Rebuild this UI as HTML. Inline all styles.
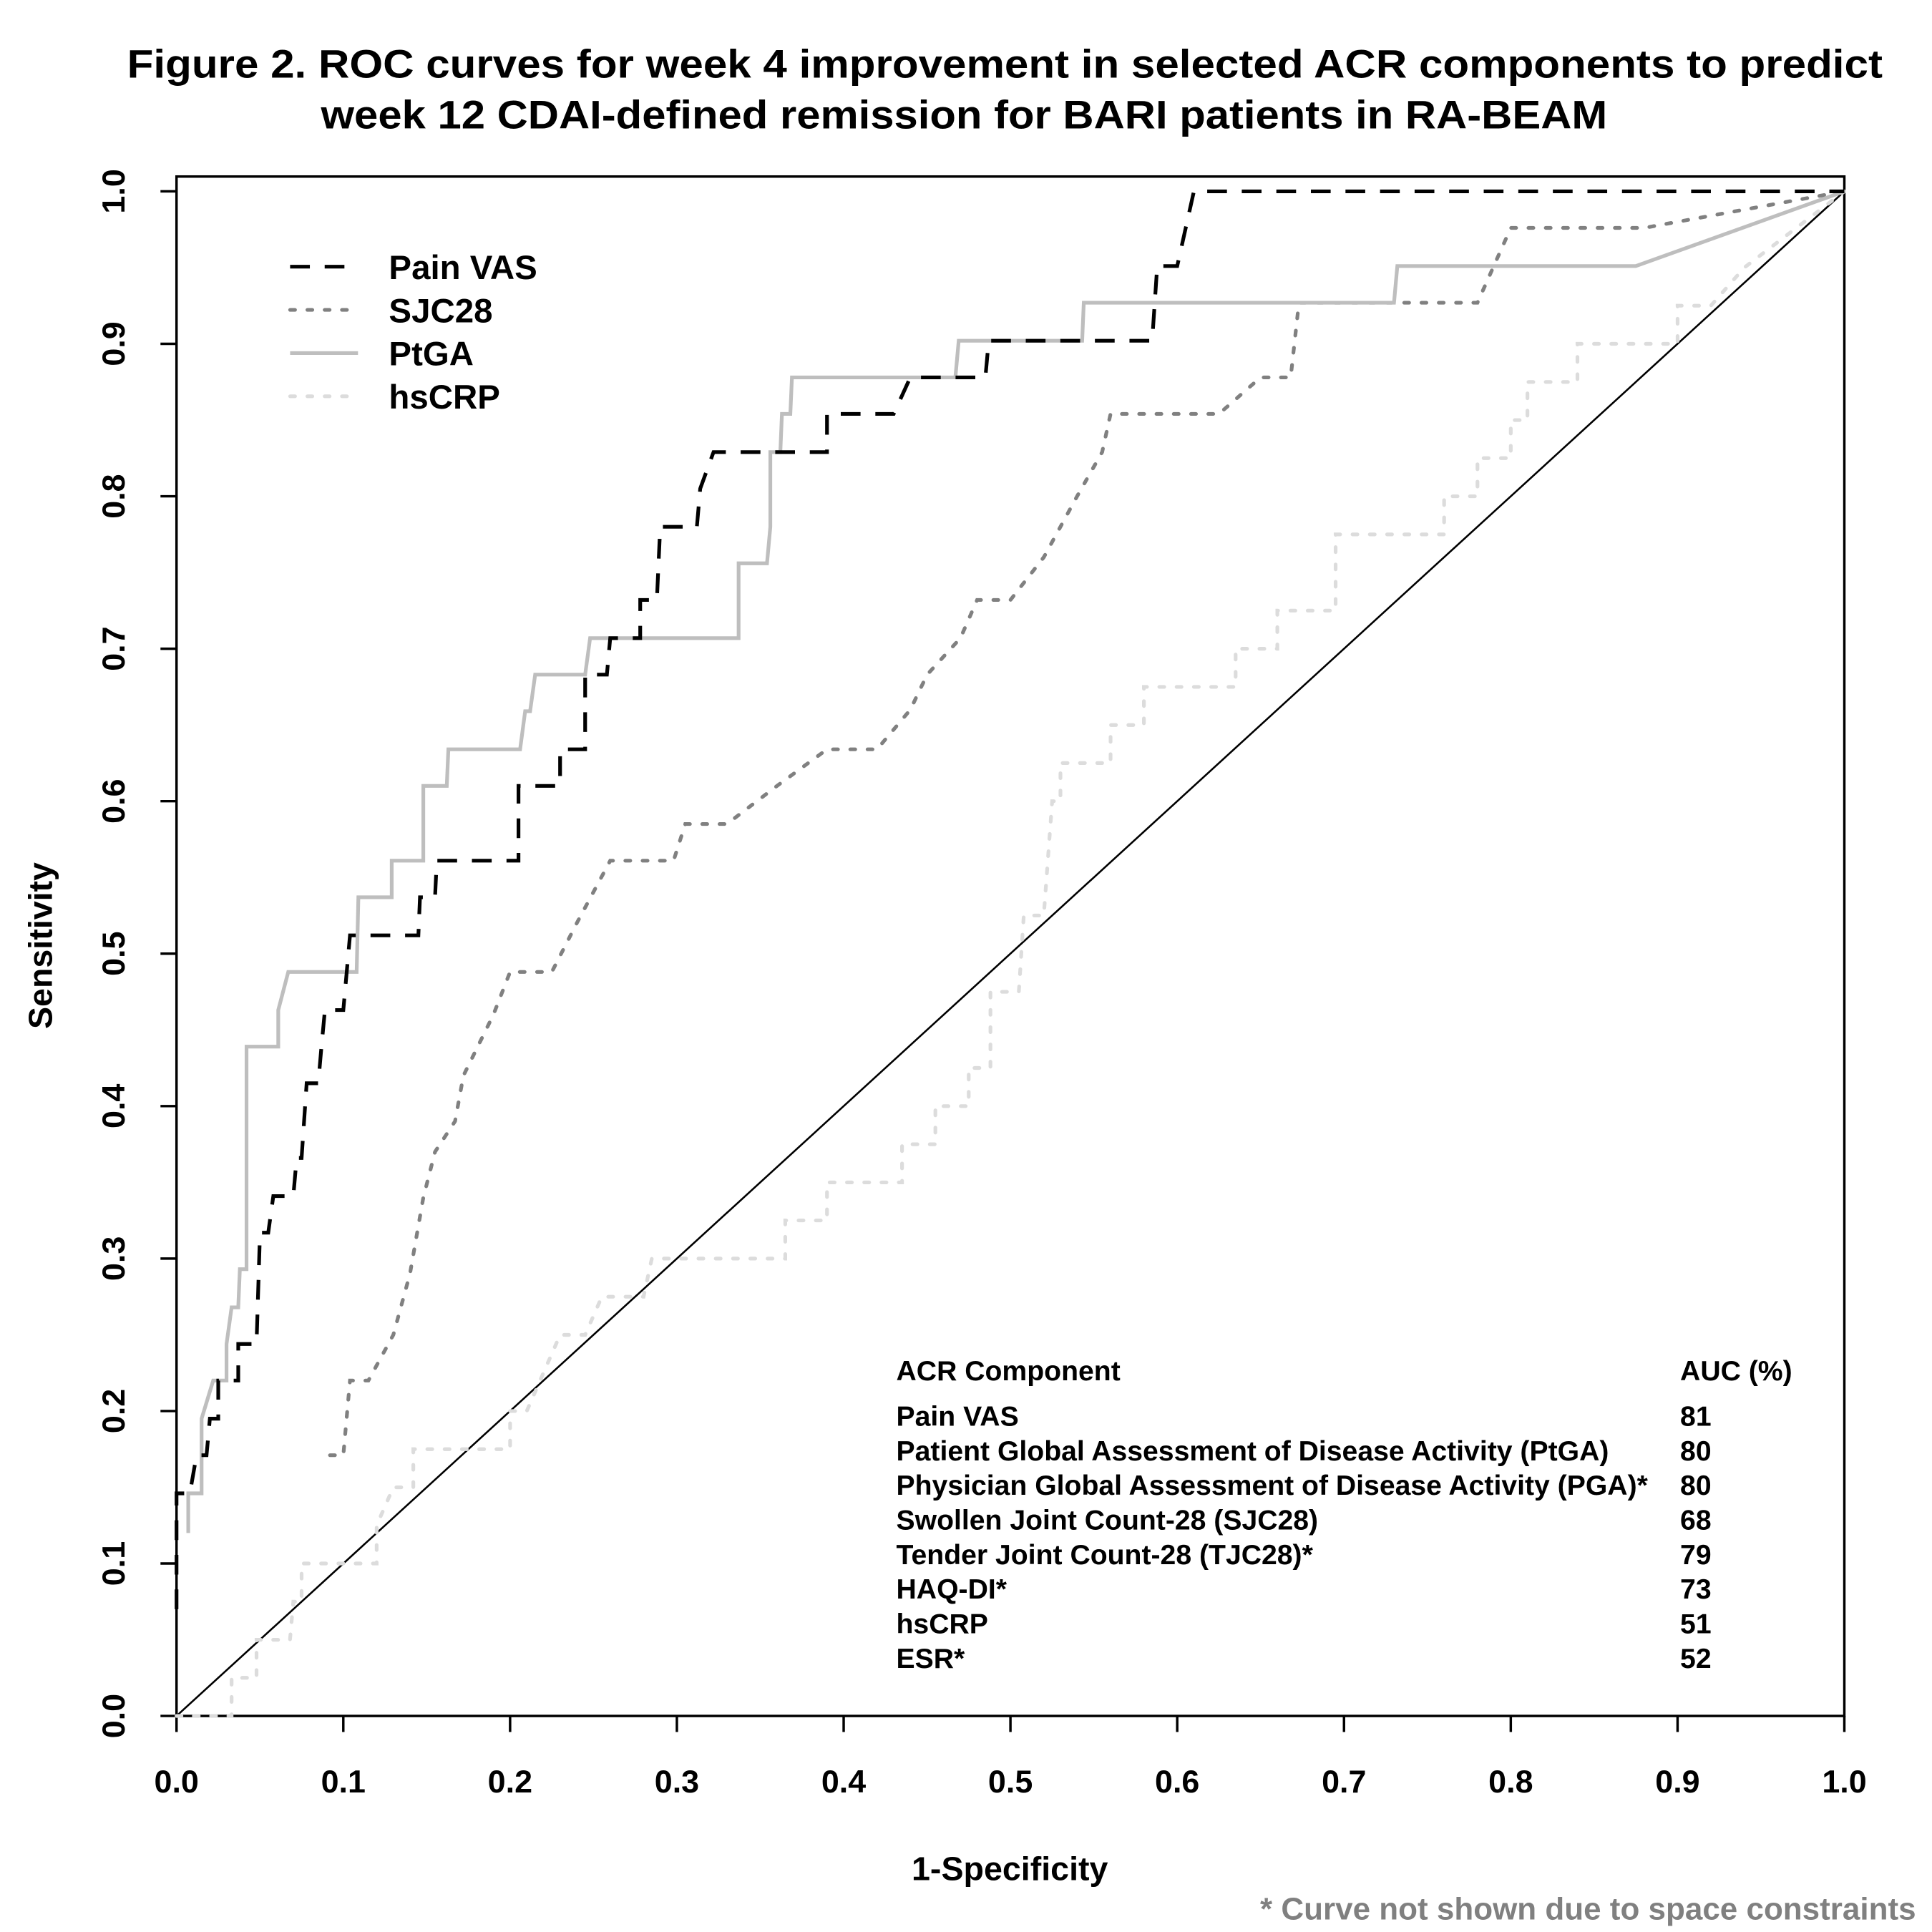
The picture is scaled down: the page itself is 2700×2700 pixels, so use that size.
<!DOCTYPE html>
<html><head><meta charset="utf-8"><style>
html,body{margin:0;padding:0;background:#fff}
svg{display:block}
text{font-family:"Liberation Sans",Arial,sans-serif;font-weight:bold}
</style></head><body>
<svg id="chart" width="2700" height="2700" viewBox="0 0 1565 1565" xmlns="http://www.w3.org/2000/svg">
<rect width="1565" height="1565" fill="#fff"/>
<text x="103" y="63" font-size="32" textLength="1422" lengthAdjust="spacingAndGlyphs">Figure 2. ROC curves for week 4 improvement in selected ACR components to predict</text>
<text x="260" y="104" font-size="32" textLength="1042" lengthAdjust="spacingAndGlyphs">week 12 CDAI-defined remission for BARI patients in RA-BEAM</text>
<rect x="143" y="143" width="1351" height="1247" fill="none" stroke="#000" stroke-width="2"/>
<g id="xticks"></g>
<g id="yticks"></g>
<g id="series"></g>
<text x="818" y="1523" font-size="27" text-anchor="middle">1-Specificity</text>
<text transform="translate(42,766) rotate(-90)" font-size="27" text-anchor="middle">Sensitivity</text>
<text x="1552" y="1555" font-size="25.5" fill="#808080" text-anchor="end">* Curve not shown due to space constraints</text>
<g id="legend"></g>
<g id="table" font-size="22.7"></g>
</svg>
<script>
const NS='http://www.w3.org/2000/svg';
const xTicks=[0,0.1,0.2,0.3,0.4,0.5,0.6,0.7,0.8,0.9,1.0];
const yTicks=[0,0.1,0.2,0.3,0.4,0.5,0.6,0.7,0.8,0.9,1.0];
const painX=[0,0,0.008,0.012,0.018,0.02,0.025,0.025,0.037,0.037,0.048,0.05,0.055,0.058,0.07,0.072,0.075,0.078,0.085,0.087,0.089,0.1,0.104,0.145,0.146,0.155,0.156,0.205,0.205,0.23,0.23,0.245,0.245,0.258,0.26,0.278,0.278,0.288,0.29,0.312,0.314,0.322,0.39,0.39,0.43,0.44,0.485,0.487,0.585,0.588,0.6,0.61,1];
const painY=[0.07,0.146,0.146,0.171,0.171,0.195,0.195,0.22,0.22,0.244,0.244,0.317,0.317,0.341,0.341,0.366,0.366,0.415,0.415,0.44,0.463,0.463,0.512,0.512,0.537,0.537,0.561,0.561,0.61,0.61,0.634,0.634,0.683,0.683,0.707,0.707,0.732,0.732,0.78,0.78,0.805,0.829,0.829,0.854,0.854,0.878,0.878,0.902,0.902,0.951,0.951,1,1];
const ptgaX=[0.007,0.007,0.015,0.015,0.022,0.03,0.03,0.033,0.037,0.038,0.042,0.042,0.061,0.061,0.067,0.108,0.109,0.129,0.129,0.148,0.148,0.162,0.163,0.206,0.209,0.212,0.215,0.245,0.248,0.337,0.337,0.354,0.356,0.356,0.362,0.363,0.368,0.369,0.467,0.469,0.543,0.544,0.73,0.732,0.875,1];
const ptgaY=[0.12,0.146,0.146,0.195,0.22,0.22,0.244,0.268,0.268,0.293,0.293,0.439,0.439,0.463,0.488,0.488,0.537,0.537,0.561,0.561,0.61,0.61,0.634,0.634,0.659,0.659,0.683,0.683,0.707,0.707,0.756,0.756,0.78,0.829,0.829,0.854,0.854,0.878,0.878,0.902,0.902,0.927,0.927,0.951,0.951,1];
const sjcX=[0.092,0.1,0.104,0.115,0.13,0.14,0.148,0.155,0.167,0.172,0.19,0.2,0.225,0.24,0.26,0.298,0.305,0.33,0.36,0.39,0.42,0.44,0.45,0.47,0.48,0.5,0.52,0.54,0.555,0.56,0.625,0.65,0.668,0.673,0.78,0.8,0.88,1];
const sjcY=[0.171,0.171,0.22,0.22,0.25,0.29,0.34,0.37,0.39,0.42,0.46,0.488,0.488,0.52,0.561,0.561,0.585,0.585,0.61,0.634,0.634,0.66,0.683,0.707,0.732,0.732,0.76,0.8,0.829,0.854,0.854,0.878,0.878,0.927,0.927,0.976,0.976,1];
const crpX=[0,0.033,0.033,0.048,0.048,0.068,0.07,0.075,0.075,0.12,0.12,0.13,0.142,0.142,0.2,0.2,0.21,0.22,0.23,0.245,0.255,0.28,0.285,0.365,0.365,0.39,0.39,0.435,0.435,0.455,0.455,0.475,0.475,0.488,0.488,0.505,0.508,0.52,0.525,0.53,0.53,0.56,0.56,0.58,0.58,0.635,0.635,0.66,0.66,0.695,0.695,0.76,0.76,0.78,0.78,0.8,0.8,0.81,0.81,0.84,0.84,0.9,0.9,0.92,0.94,1];
const crpY=[0,0,0.025,0.025,0.05,0.05,0.075,0.075,0.1,0.1,0.125,0.15,0.15,0.175,0.175,0.2,0.2,0.225,0.25,0.25,0.275,0.275,0.3,0.3,0.325,0.325,0.35,0.35,0.375,0.375,0.4,0.4,0.425,0.425,0.475,0.475,0.525,0.525,0.6,0.6,0.625,0.625,0.65,0.65,0.675,0.675,0.7,0.7,0.725,0.725,0.775,0.775,0.8,0.8,0.825,0.825,0.85,0.85,0.875,0.875,0.9,0.9,0.925,0.925,0.95,1];
const refX=[0,1];
const refY=[0,1];
const tableNames=['Pain VAS','Patient Global Assessment of Disease Activity (PtGA)','Physician Global Assessment of Disease Activity (PGA)*','Swollen Joint Count-28 (SJC28)','Tender Joint Count-28 (TJC28)*','HAQ-DI*','hsCRP','ESR*'];
const tableAUC=[81,80,80,68,79,73,51,52];
const legendNames=['Pain VAS','SJC28','PtGA','hsCRP'];

const X0=143,X1=1494,Y0=1390,Y1=155;
function sx(v){return X0+v*(X1-X0);}
function sy(v){return Y0-v*(Y0-Y1);}
function el(tag,attrs,parent){const e=document.createElementNS(NS,tag);for(const k in attrs)e.setAttribute(k,attrs[k]);parent.appendChild(e);return e;}

const xg=document.getElementById('xticks');
xTicks.forEach(t=>{
  const l=el('line',{x1:sx(t),x2:sx(t),y1:1390,y2:1403,stroke:'#000','stroke-width':2},xg);
  
  
  const tx=el('text',{x:sx(t),y:1452,'font-size':26,'text-anchor':'middle'},xg);
  tx.textContent=t.toFixed(1);
  
  
});
const yg=document.getElementById('yticks');
yTicks.forEach(t=>{
  const l=el('line',{x1:130,x2:143,y1:sy(t),y2:sy(t),stroke:'#000','stroke-width':2},yg);
  
  
  const tx=el('text',{transform:'translate(101,'+sy(t)+') rotate(-90)','font-size':26,'text-anchor':'middle'},yg);
  tx.textContent=t.toFixed(1);
  
  
});

const sg=document.getElementById('series');
function poly(xs,ys,style,name){
  const pts=xs.map((x,i)=>sx(x).toFixed(1)+','+sy(ys[i]).toFixed(1)).join(' ');
  const p=el('polyline',Object.assign({points:pts,fill:'none'},style),sg);
  
  
}
const styles={
  pain:{stroke:'#000','stroke-width':3,'stroke-dasharray':'16 12'},
  sjc:{stroke:'#808080','stroke-width':3,'stroke-dasharray':'4 10','stroke-linecap':'round'},
  ptga:{stroke:'#bebebe','stroke-width':3},
  crp:{stroke:'#dcdcdc','stroke-width':3,'stroke-dasharray':'4 10','stroke-linecap':'round'},
  ref:{stroke:'#000','stroke-width':1.5}
};
poly(refX,refY,styles.ref,'reference-diagonal');
poly(crpX,crpY,styles.crp,'hscrp-curve');
poly(sjcX,sjcY,styles.sjc,'sjc28-curve');
poly(ptgaX,ptgaY,styles.ptga,'ptga-curve');
poly(painX,painY,styles.pain,'pain-vas-curve');

const lg=document.getElementById('legend');
const lstyles=[styles.pain,styles.sjc,styles.ptga,styles.crp];
legendNames.forEach((n,i)=>{
  const y=216+i*35;
  const l=el('line',Object.assign({x1:235,x2:290,y1:y,y2:y},lstyles[i]),lg);
  
  
  const t=el('text',{x:315,y:y+10,'font-size':27.5},lg);
  t.textContent=n;
  
  
});

const tg=document.getElementById('table');
const h1=el('text',{x:726,y:1118},tg);h1.textContent='ACR Component';


const h2=el('text',{x:1361,y:1118},tg);h2.textContent='AUC (%)';


tableNames.forEach((n,i)=>{
  const y=1155+i*28;
  const a=el('text',{x:726,y:y},tg);a.textContent=n;
  
  
  const b=el('text',{x:1361,y:y},tg);b.textContent=tableAUC[i];
  
  
});
</script>
</body></html>
